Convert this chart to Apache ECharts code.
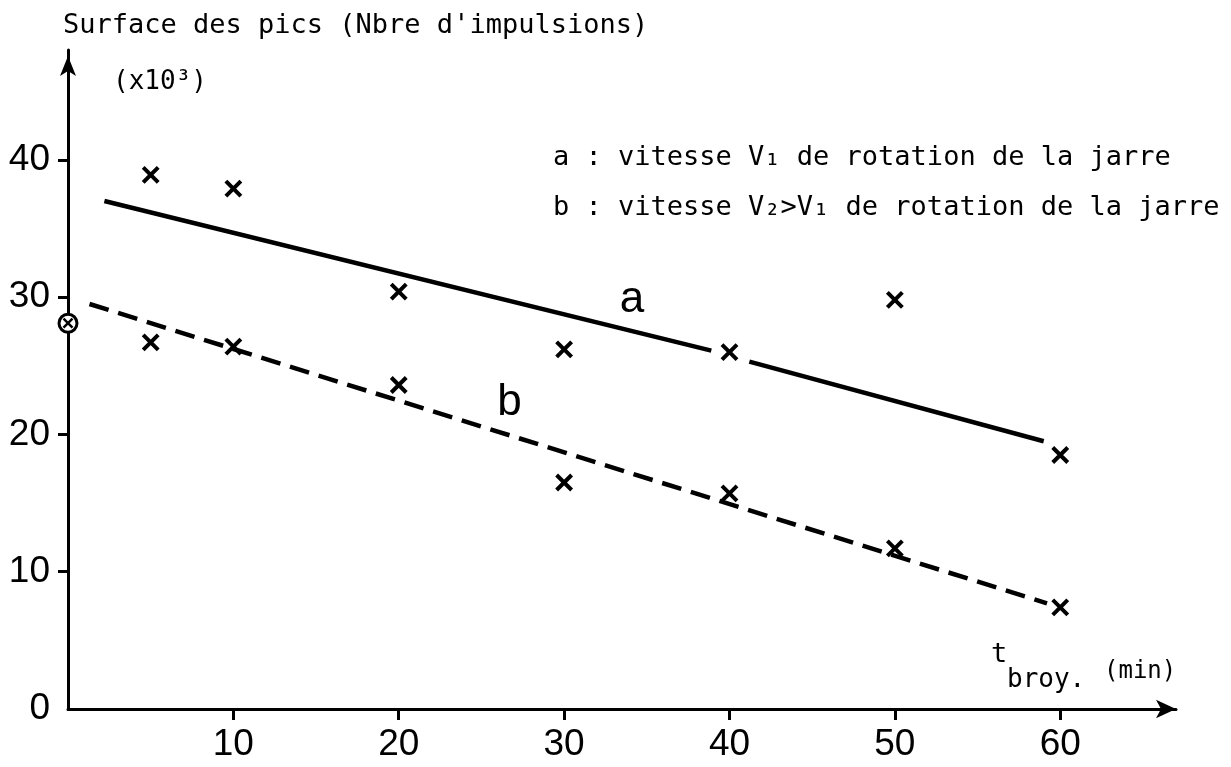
<!DOCTYPE html>
<html>
<head>
<meta charset="utf-8">
<script src="https://cdn.jsdelivr.net/npm/echarts@6/dist/echarts.min.js"></script>
<style>
  html, body { margin: 0; padding: 0; background: #fff; }
  #chart { width: 1231px; height: 767px; }
</style>
</head>
<body>
<div id="chart"></div>
<script>
// ticks and labels
const xTicks = [10, 20, 30, 40, 50, 60];
const yTicks = [10, 20, 30, 40];
const yLabels = [0, 10, 20, 30, 40];

// measured points (t in min, surface x10^3)
const pointsA = [[5, 38.9], [10, 37.9], [20, 30.4], [30, 26.2], [40, 26.0], [50, 29.8], [60, 18.5]];
const pointsB = [[5, 26.7], [10, 26.4], [20, 23.6], [30, 16.5], [40, 15.7], [50, 11.7], [60, 7.4]];
const originPoint = [[0, 28.1]];

// hand drawn lines
const lineA1 = [[2.2, 37.0], [38.9, 26.1]];
const lineA2 = [[41.2, 25.3], [59, 19.5]];
const lineB = [[1.3, 29.5], [59.2, 7.7]];
const curveLabels = [[34.1, 29.8, 'a'], [26.7, 22.3, 'b']];

const digits = 'Liberation Sans';
const cross = 'path://M0,0L10,10M10,0L0,10';

let chart = echarts.init(document.getElementById('chart'));

chart.setOption({
    animation: false,
    grid: {left: 68, top: 50, width: 1108, height: 659, outerBoundsMode: 'none'},
    xAxis: {
        type: 'value', min: 0, max: 67,
        splitLine: {show: false},
        axisLine: {lineStyle: {color: '#000', width: 3}, symbol: ['none', 'arrow'], symbolSize: [14, 20]},
        axisTick: {show: true, length: 11, lineStyle: {color: '#000', width: 3}, customValues: xTicks},
        axisLabel: {customValues: xTicks, margin: 17, color: '#000', fontFamily: digits, fontSize: 37}
    },
    yAxis: {
        type: 'value', min: 0, max: 48,
        splitLine: {show: false},
        axisLine: {lineStyle: {color: '#000', width: 3}, symbol: ['none', 'arrow'], symbolSize: [12, 20], symbolOffset: [0, -6]},
        axisTick: {show: true, length: 10, lineStyle: {color: '#000', width: 3}, customValues: yTicks},
        axisLabel: {customValues: yLabels, margin: 18, color: '#000', fontFamily: digits, fontSize: 37, padding: [8, 0, 0, 0]}
    },
    graphic: [
        {type: 'text', left: 63, top: 12, style: {text: "Surface des pics (Nbre d'impulsions)", font: '27px "DejaVu Sans Mono"', fill: '#000'}},
        {type: 'text', left: 113, top: 69, style: {text: '(x10³)', font: '26px "DejaVu Sans Mono"', fill: '#000'}},
        {type: 'text', left: 553, top: 144, style: {text: 'a : vitesse V₁ de rotation de la jarre', font: '27px "DejaVu Sans Mono"', fill: '#000'}},
        {type: 'text', left: 553, top: 194, style: {text: 'b : vitesse V₂>V₁ de rotation de la jarre', font: '27px "DejaVu Sans Mono"', fill: '#000'}},
        {type: 'text', left: 991, top: 641, style: {text: 't', font: '27px "DejaVu Sans Mono"', fill: '#000'}},
        {type: 'text', left: 1007, top: 667, style: {text: 'broy.', font: '26px "DejaVu Sans Mono"', fill: '#000'}},
        {type: 'text', left: 1104, top: 660, style: {text: '(min)', font: '24px "DejaVu Sans Mono"', fill: '#000'}}
    ],
    series: [
        {
            name: 'a', type: 'line', data: lineA1, symbol: 'none', silent: true,
            lineStyle: {color: '#000', width: 4.5}
        },
        {
            name: 'a2', type: 'line', data: lineA2, symbol: 'none', silent: true,
            lineStyle: {color: '#000', width: 4.5}
        },
        {
            name: 'b', type: 'line', data: lineB, symbol: 'none', silent: true,
            lineStyle: {color: '#000', width: 4.5, type: [20, 10]}
        },
        {
            name: 'pointsA', type: 'scatter', data: pointsA, symbol: cross, symbolSize: 15,
            itemStyle: {color: 'transparent', borderColor: '#000', borderWidth: 4, opacity: 1}
        },
        {
            name: 'pointsB', type: 'scatter', data: pointsB, symbol: cross, symbolSize: 15,
            itemStyle: {color: 'transparent', borderColor: '#000', borderWidth: 4, opacity: 1}
        },
        {
            name: 'origin', type: 'scatter', data: originPoint, symbol: 'circle', symbolSize: 18,
            itemStyle: {color: '#fff', borderColor: '#000', borderWidth: 3, opacity: 1}
        },
        {
            name: 'originCross', type: 'scatter', data: originPoint, symbol: cross, symbolSize: 9,
            itemStyle: {color: 'transparent', borderColor: '#000', borderWidth: 2.5, opacity: 1}
        },
        {
            name: 'labels', type: 'scatter', data: curveLabels, symbolSize: 0,
            itemStyle: {opacity: 1},
            label: {
                show: true, position: 'inside', color: '#000',
                fontFamily: digits, fontSize: 44,
                formatter: p => p.value[2]
            }
        }
    ]
});
</script>
</body>
</html>
